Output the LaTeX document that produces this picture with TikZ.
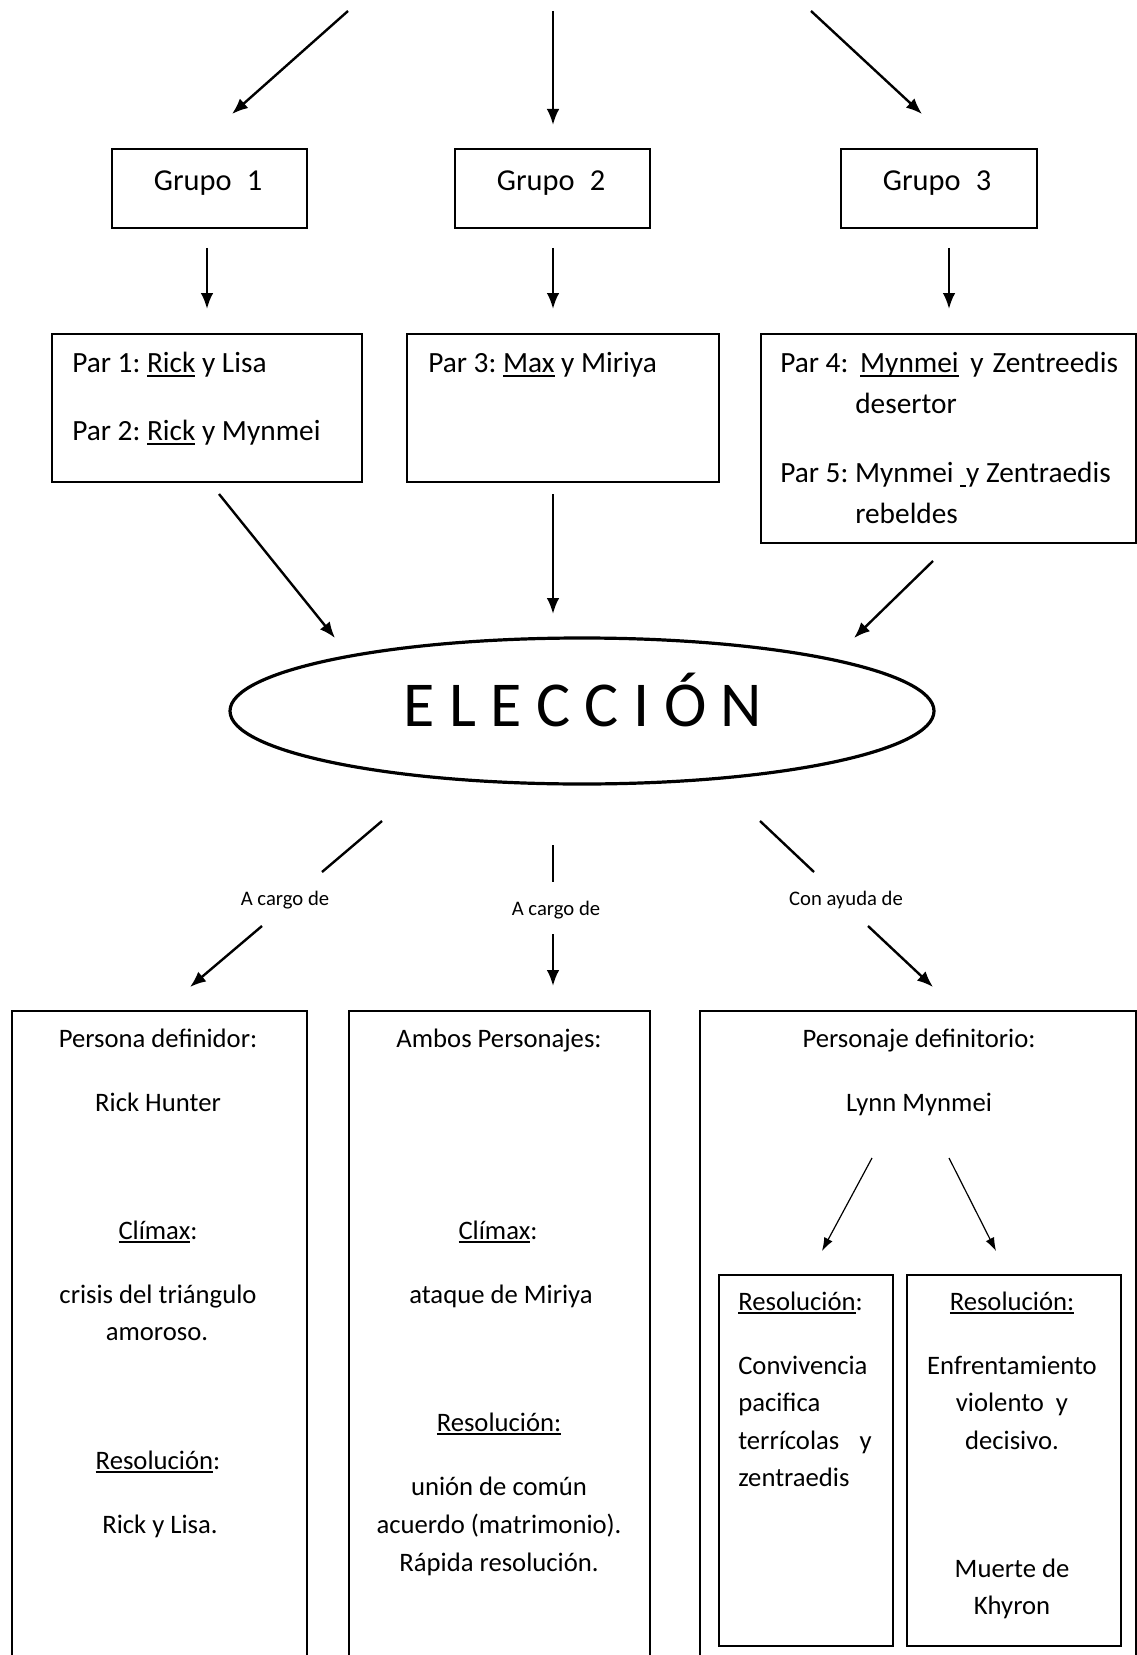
\documentclass[tikz,border=0pt]{standalone}
\usepackage{fontspec}
\setmainfont{Carlito}
\usetikzlibrary{arrows.meta,shapes.geometric}
\newcommand\ulx[1]{\setbox0\hbox{#1}\rlap{\rule[-0.14em]{\wd0}{0.07em}}\box0{}}
\frenchspacing
\begin{document}
\begin{tikzpicture}[x=0.75pt,y=-0.75pt,
  arr/.style={line width=1.8pt,-{Latex[length=12pt,width=9.5pt]}},
  tarr/.style={line width=0.9pt,-{Latex[length=10pt,width=7pt]}},
  seg/.style={line width=1.8pt},
  bx/.style 2 args={draw,line width=1.3pt,inner sep=0pt,minimum width={#1*0.75pt},minimum height={#2*0.75pt},anchor=north west},
  gt/.style={font=\fontsize{22.8}{27}\selectfont,anchor=mid,inner sep=0pt,yshift=-5.5pt},
  ttl/.style={font=\fontsize{22}{26}\selectfont,anchor=mid west,inner sep=0pt,yshift=-5.5pt},
  bt/.style={font=\fontsize{20}{24}\selectfont,anchor=mid,inner sep=0pt,yshift=-4pt},
  btl/.style={bt,anchor=mid west},
  lbl/.style={font=\fontsize{15.5}{18}\selectfont,anchor=mid,inner sep=0pt,yshift=-3pt}]
\useasboundingbox (0,0) rectangle (1137,1655);
\clip (0,0) rectangle (1137,1655);

% top incoming arrows
\coordinate (t1) at (348,11);  \coordinate (h1) at (232,114);
\coordinate (t2) at (553,11);  \coordinate (h2) at (553,125);
\coordinate (t3) at (811,11);  \coordinate (h3) at (922,114);
\draw[arr] (t1) -- (h1);
\draw[arr] (t2) -- (h2);
\draw[arr] (t3) -- (h3);

% Grupo boxes
\node[bx={195}{79}] (g1) at (111,148) {};
\node[bx={195}{79}] (g2) at (454,148) {};
\node[bx={196}{79}] (g3) at (840,148) {};
\node[gt] (g1t) at (208,180) {Grupo\hspace{0.5em}1};
\node[gt] (g2t) at (551,180) {Grupo\hspace{0.5em}2};
\node[gt] (g3t) at (937,180) {Grupo\hspace{0.5em}3};

% arrows grupo -> par
\coordinate (a1s) at (207,248); \coordinate (a1e) at (207,309);
\coordinate (a2s) at (553,248); \coordinate (a2e) at (553,309);
\coordinate (a3s) at (949,248); \coordinate (a3e) at (949,309);
\draw[arr] (a1s) -- (a1e);
\draw[arr] (a2s) -- (a2e);
\draw[arr] (a3s) -- (a3e);

% Par boxes
\node[bx={310}{148}] (p1) at (51,333) {};
\node[bx={312}{148}] (p3) at (406,333) {};
\node[bx={375}{209}] (p45) at (760,333) {};
\node[ttl] (p1a) at (72,362) {Par 1: \ulx{Rick} y Lisa};
\node[ttl] (p1b) at (72,430) {Par 2: \ulx{Rick} y Mynmei};
\node[ttl] (p3a) at (428,362) {Par 3: \ulx{Max} y Miriya};
\node[ttl] (p4a) at (780,362) {Par 4:\hspace{0.4em}\ulx{Mynmei}\hspace{0.4em}y\hspace{0.3em}Zentreedis};
\node[ttl] (p4b) at (855,403) {desertor};
\node[ttl] (p5a) at (780,472) {Par 5: Mynmei \ulx{\hspace{0.2em}}y Zentraedis};
\node[ttl] (p5b) at (855,513) {rebeldes};

% arrows par -> eleccion
\coordinate (b1s) at (219,494); \coordinate (b1e) at (335,638);
\coordinate (b2s) at (553,494); \coordinate (b2e) at (553,614);
\coordinate (b3s) at (933,561); \coordinate (b3e) at (854,638);
\draw[arr] (b1s) -- (b1e);
\draw[arr] (b2s) -- (b2e);
\draw[arr] (b3s) -- (b3e);

% ellipse
\node[draw,ellipse,line width=2.4pt,inner sep=0pt,minimum width={704*0.75pt},minimum height={146*0.75pt}] (el) at (582,711) {};
\node[font=\fontsize{48}{56}\selectfont,anchor=base,inner sep=0pt] (elt) at (583,726) {E L E C C I Ó N};

% split arrows with labels
\coordinate (c1s) at (382,821); \coordinate (c1m) at (322,872);
\coordinate (c1n) at (262,926); \coordinate (c1e) at (190,987);
\coordinate (c2s) at (553,845); \coordinate (c2m) at (553,882);
\coordinate (c2n) at (553,934); \coordinate (c2e) at (553,986);
\coordinate (c3s) at (760,821); \coordinate (c3m) at (814,872);
\coordinate (c3n) at (868,926); \coordinate (c3e) at (933,987);
\draw[seg] (c1s) -- (c1m);
\draw[arr] (c1n) -- (c1e);
\draw[seg] (c2s) -- (c2m);
\draw[arr] (c2n) -- (c2e);
\draw[seg] (c3s) -- (c3m);
\draw[arr] (c3n) -- (c3e);
\node[lbl] (l1) at (285,898) {A cargo de};
\node[lbl] (l2) at (556,908) {A cargo de};
\node[lbl] (l3) at (846,898) {Con ayuda de};

% bottom boxes
\node[bx={295}{720}] (q1) at (11,1010) {};
\node[bx={301}{720}] (q2) at (348,1010) {};
\node[bx={436}{720}] (q3) at (699,1010) {};

\node[bt] (q1a) at (158,1039) {Persona definidor:};
\node[bt] (q1b) at (158,1103) {Rick Hunter};
\node[bt] (q1c) at (158,1231) {\ulx{Clímax}:};
\node[bt] (q1d) at (158,1295) {crisis del triángulo};
\node[bt] (q1e) at (157,1332) {amoroso.};
\node[bt] (q1f) at (158,1461) {\ulx{Resolución}:};
\node[bt] (q1g) at (160,1525) {Rick y Lisa.};

\node[bt] (q2a) at (499,1039) {Ambos Personajes:};
\node[bt] (q2b) at (498,1231) {\ulx{Clímax}:};
\node[bt] (q2c) at (501,1295) {ataque de Miriya};
\node[bt] (q2d) at (499,1423) {\ulx{Resolución:}};
\node[bt] (q2e) at (499,1487) {unión de común};
\node[bt] (q2f) at (499,1525) {acuerdo (matrimonio).};
\node[bt] (q2g) at (499,1563) {Rápida resolución.};

\node[bt] (q3a) at (919,1039) {Personaje definitorio:};
\node[bt] (q3b) at (919,1103) {Lynn Mynmei};

% inner arrows
\coordinate (d1s) at (872,1158); \coordinate (d1e) at (822,1251);
\coordinate (d2s) at (949,1158); \coordinate (d2e) at (996,1251);
\draw[tarr] (d1s) -- (d1e);
\draw[tarr] (d2s) -- (d2e);

% inner boxes
\node[bx={174}{371}] (r1) at (718,1274) {};
\node[bx={214}{371}] (r2) at (906,1274) {};

\node[btl] (r1a) at (738,1302) {\ulx{Resolución}:};
\node[btl] (r1b) at (738,1366) {Convivencia};
\node[btl] (r1c) at (738,1403) {pacifica};
\node[btl] (r1d) at (738,1441) {\makebox[100pt][l]{terrícolas\hfill y}};
\node[btl] (r1e) at (738,1478) {zentraedis};

\node[bt] (r2a) at (1012,1302) {\ulx{Resolución:}};
\node[bt] (r2b) at (1012,1366) {Enfrentamiento};
\node[bt] (r2c) at (1012,1403) {violento\hspace{0.45em}y};
\node[bt] (r2d) at (1012,1441) {decisivo.};
\node[bt] (r2e) at (1012,1569) {Muerte de};
\node[bt] (r2f) at (1012,1606) {Khyron};
\end{tikzpicture}
\end{document}
